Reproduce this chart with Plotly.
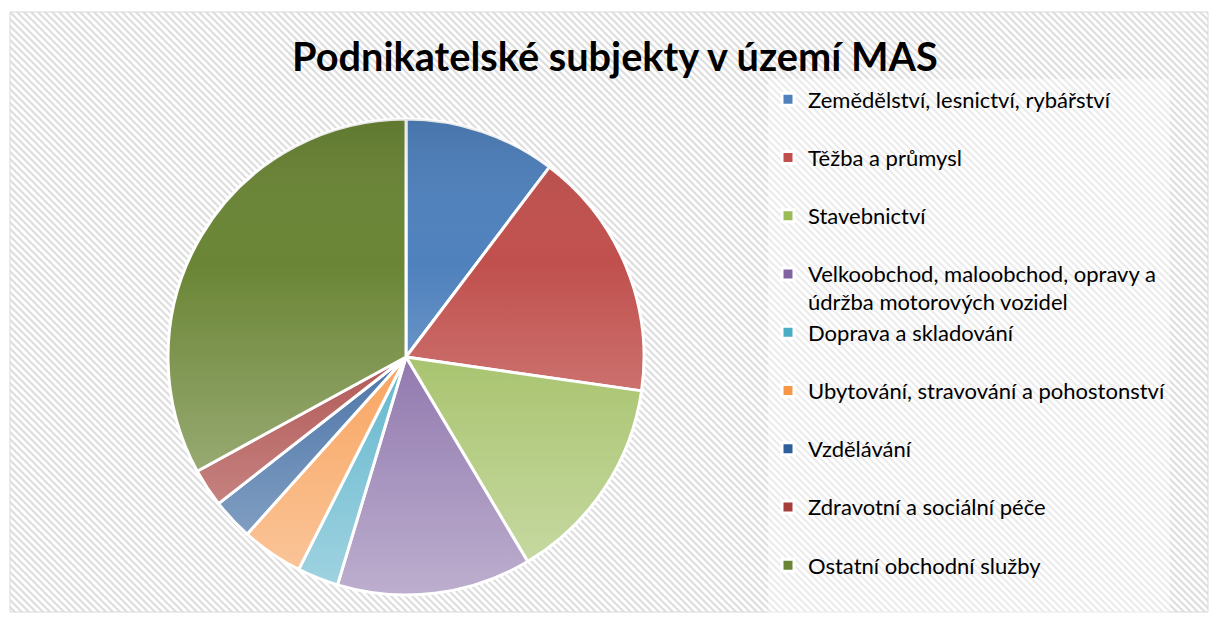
import base64
import plotly.graph_objects as go

# ---- data ----
categories = [
    "Zemědělství, lesnictví, rybářství",
    "Těžba a průmysl",
    "Stavebnictví",
    "Velkoobchod, maloobchod, opravy a údržba motorových vozidel",
    "Doprava a skladování",
    "Ubytování, stravování a pohostonství",
    "Vzdělávání",
    "Zdravotní a sociální péče",
    "Ostatní obchodní služby",
]
shares = [10.3, 17.0, 14.2, 13.2, 2.8, 4.2, 2.8, 2.6, 33.0]
colors = ["#4f81bd", "#c0504d", "#9bbb59", "#8064a2", "#4bacc6",
          "#f79646", "#2f5f9a", "#a63f3c", "#6a8535"]
title_text = "Podnikatelské subjekty v území MAS"

W, H = 1209, 619

# legend labels: each entry takes two text lines so the entries get Excel-like spacing
def legend_label(c):
    c = c.replace("opravy a ", "opravy a<br>")
    lines = c.split("<br>")
    spans = ['<span style="font-size:22px">%s</span>' % ln for ln in lines]
    if len(spans) == 1:
        spans.append(" ")
    return "<br>".join(spans)

labels = [legend_label(c) for c in categories]

# pie placement (pixels -> paper)
cx, cy, r = 406, 357, 238
dom_x = [(cx - r) / W, (cx + r) / W]
dom_y = [1 - (cy + r) / H, 1 - (cy - r) / H]

fig = go.Figure(go.Pie(
    labels=labels,
    values=shares,
    sort=False,
    direction="clockwise",
    rotation=0,
    textinfo="none",
    hovertext=categories,
    hoverinfo="text+percent",
    marker=dict(colors=colors, line=dict(color="white", width=3)),
    domain=dict(x=dom_x, y=dom_y),
))

# hatched chart-area background
hatch_svg = (
    '<svg xmlns="http://www.w3.org/2000/svg" width="1198" height="600">'
    '<defs><pattern id="p" patternUnits="userSpaceOnUse" width="7" height="7">'
    '<path d="M-1,6 l2,2 M0,0 l7,7 M6,-1 l2,2" stroke="#dedede" stroke-width="2.2"/>'
    '</pattern></defs>'
    '<rect width="1198" height="600" fill="white"/>'
    '<rect width="1198" height="600" fill="url(#p)"/></svg>'
)
grad_svg = (
    '<svg xmlns="http://www.w3.org/2000/svg" width="100" height="100" viewBox="0 0 100 100">'
    '<defs><linearGradient id="g" x1="0" y1="0" x2="0" y2="1">'
    '<stop offset="0" stop-color="black" stop-opacity="0.10"/>'
    '<stop offset="0.3" stop-color="white" stop-opacity="0"/>'
    '<stop offset="1" stop-color="white" stop-opacity="0.48"/>'
    '</linearGradient></defs>'
    '<circle cx="50" cy="50" r="50" fill="url(#g)"/></svg>'
)

def uri(s):
    return "data:image/svg+xml;base64," + base64.b64encode(s.encode()).decode()

fig.update_layout(
    width=W, height=H,
    margin=dict(l=0, r=0, t=0, b=0),
    paper_bgcolor="white",
    font=dict(family="Lato, 'Open Sans', sans-serif", color="black"),
    title=dict(
        text="<b>" + title_text + "</b>",
        font=dict(family="Lato", size=39.7, color="black"),
        x=615 / W, xanchor="center",
        y=1 - 57 / H, yanchor="middle",
    ),
    legend=dict(
        x=768 / W, xanchor="left",
        y=1 - 79 / H, yanchor="top",
        valign="top",
        bgcolor="rgba(255,255,255,0.42)",
        font=dict(family="Lato", size=21.25, color="black"),
        traceorder="normal",
    ),
    showlegend=True,
    images=[
        dict(source=uri(hatch_svg), xref="paper", yref="paper",
             x=10 / W, y=1 - 12 / H, sizex=1198 / W, sizey=600 / H,
             sizing="stretch", layer="below", xanchor="left", yanchor="top"),
        dict(source=uri(grad_svg), xref="paper", yref="paper",
             x=dom_x[0], y=dom_y[1], sizex=dom_x[1] - dom_x[0], sizey=dom_y[1] - dom_y[0],
             sizing="stretch", layer="above", xanchor="left", yanchor="top"),
    ],
    shapes=[
        dict(type="rect", xref="paper", yref="paper",
             x0=10 / W, x1=1208 / W, y0=1 - 612 / H, y1=1 - 12 / H,
             line=dict(color="#d9d9d9", width=1), fillcolor="rgba(0,0,0,0)", layer="above"),
    ],
)

fig.write_html("out.html", config={"displayModeBar": False},
               post_script="document.body.style.margin='0';")
